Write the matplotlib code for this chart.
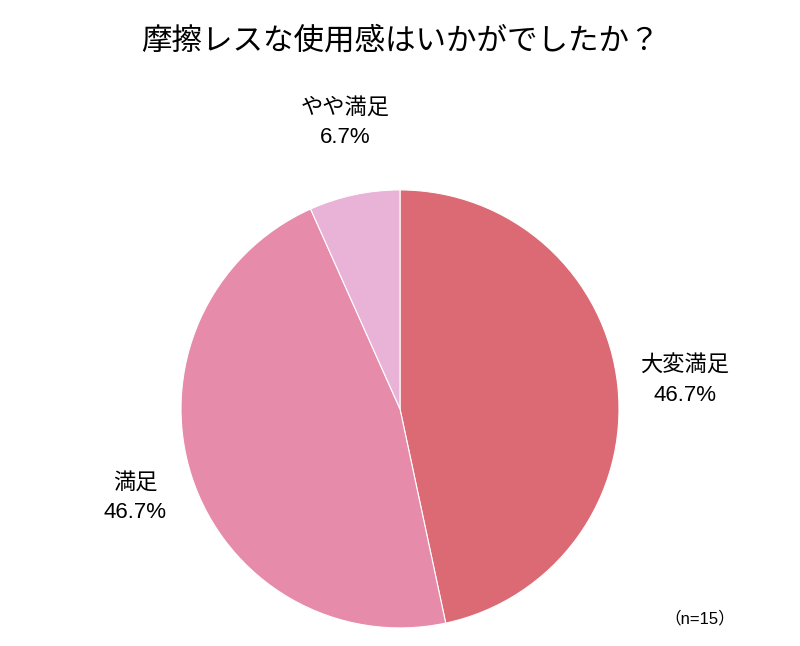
import matplotlib
matplotlib.use("Agg")
import matplotlib.pyplot as plt

plt.rcParams["font.family"] = ["Liberation Sans", "Noto Sans CJK JP", "DejaVu Sans"]

categories = ["大変満足", "満足", "やや満足"]
values = [46.7, 46.7, 6.7]
colors = ["#DC6A74", "#E78BAA", "#E8B3D7"]
title = "摩擦レスな使用感はいかがでしたか？"
note = "（n=15）"

fig = plt.figure(figsize=(8, 6.46), dpi=100)
ax = fig.add_axes([0.5 - 0.2738, 0.367 - 0.339, 0.5476, 0.678])
ax.pie(values, colors=colors, startangle=90, counterclock=False,
       wedgeprops=dict(linewidth=0.8, edgecolor="white"))
ax.set_xlim(-1, 1)
ax.set_ylim(-1, 1)
ax.set_aspect("equal")

W, H = 800, 646
label_pos = [(685, 381), (135, 498), (345, 123)]
for (x, y), c, v in zip(label_pos, categories, values):
    fig.text(x / W, 1 - y / H, f"{c}\n{v:.1f}%", ha="center", va="center",
             fontsize=16, linespacing=1.55)

fig.text(0.5, 1 - 42 / H, title, ha="center", va="center", fontsize=22)
fig.text(700 / W, 1 - 618 / H, note, ha="center", va="center", fontsize=12)

fig.savefig("out.png", dpi=100, facecolor="white")
